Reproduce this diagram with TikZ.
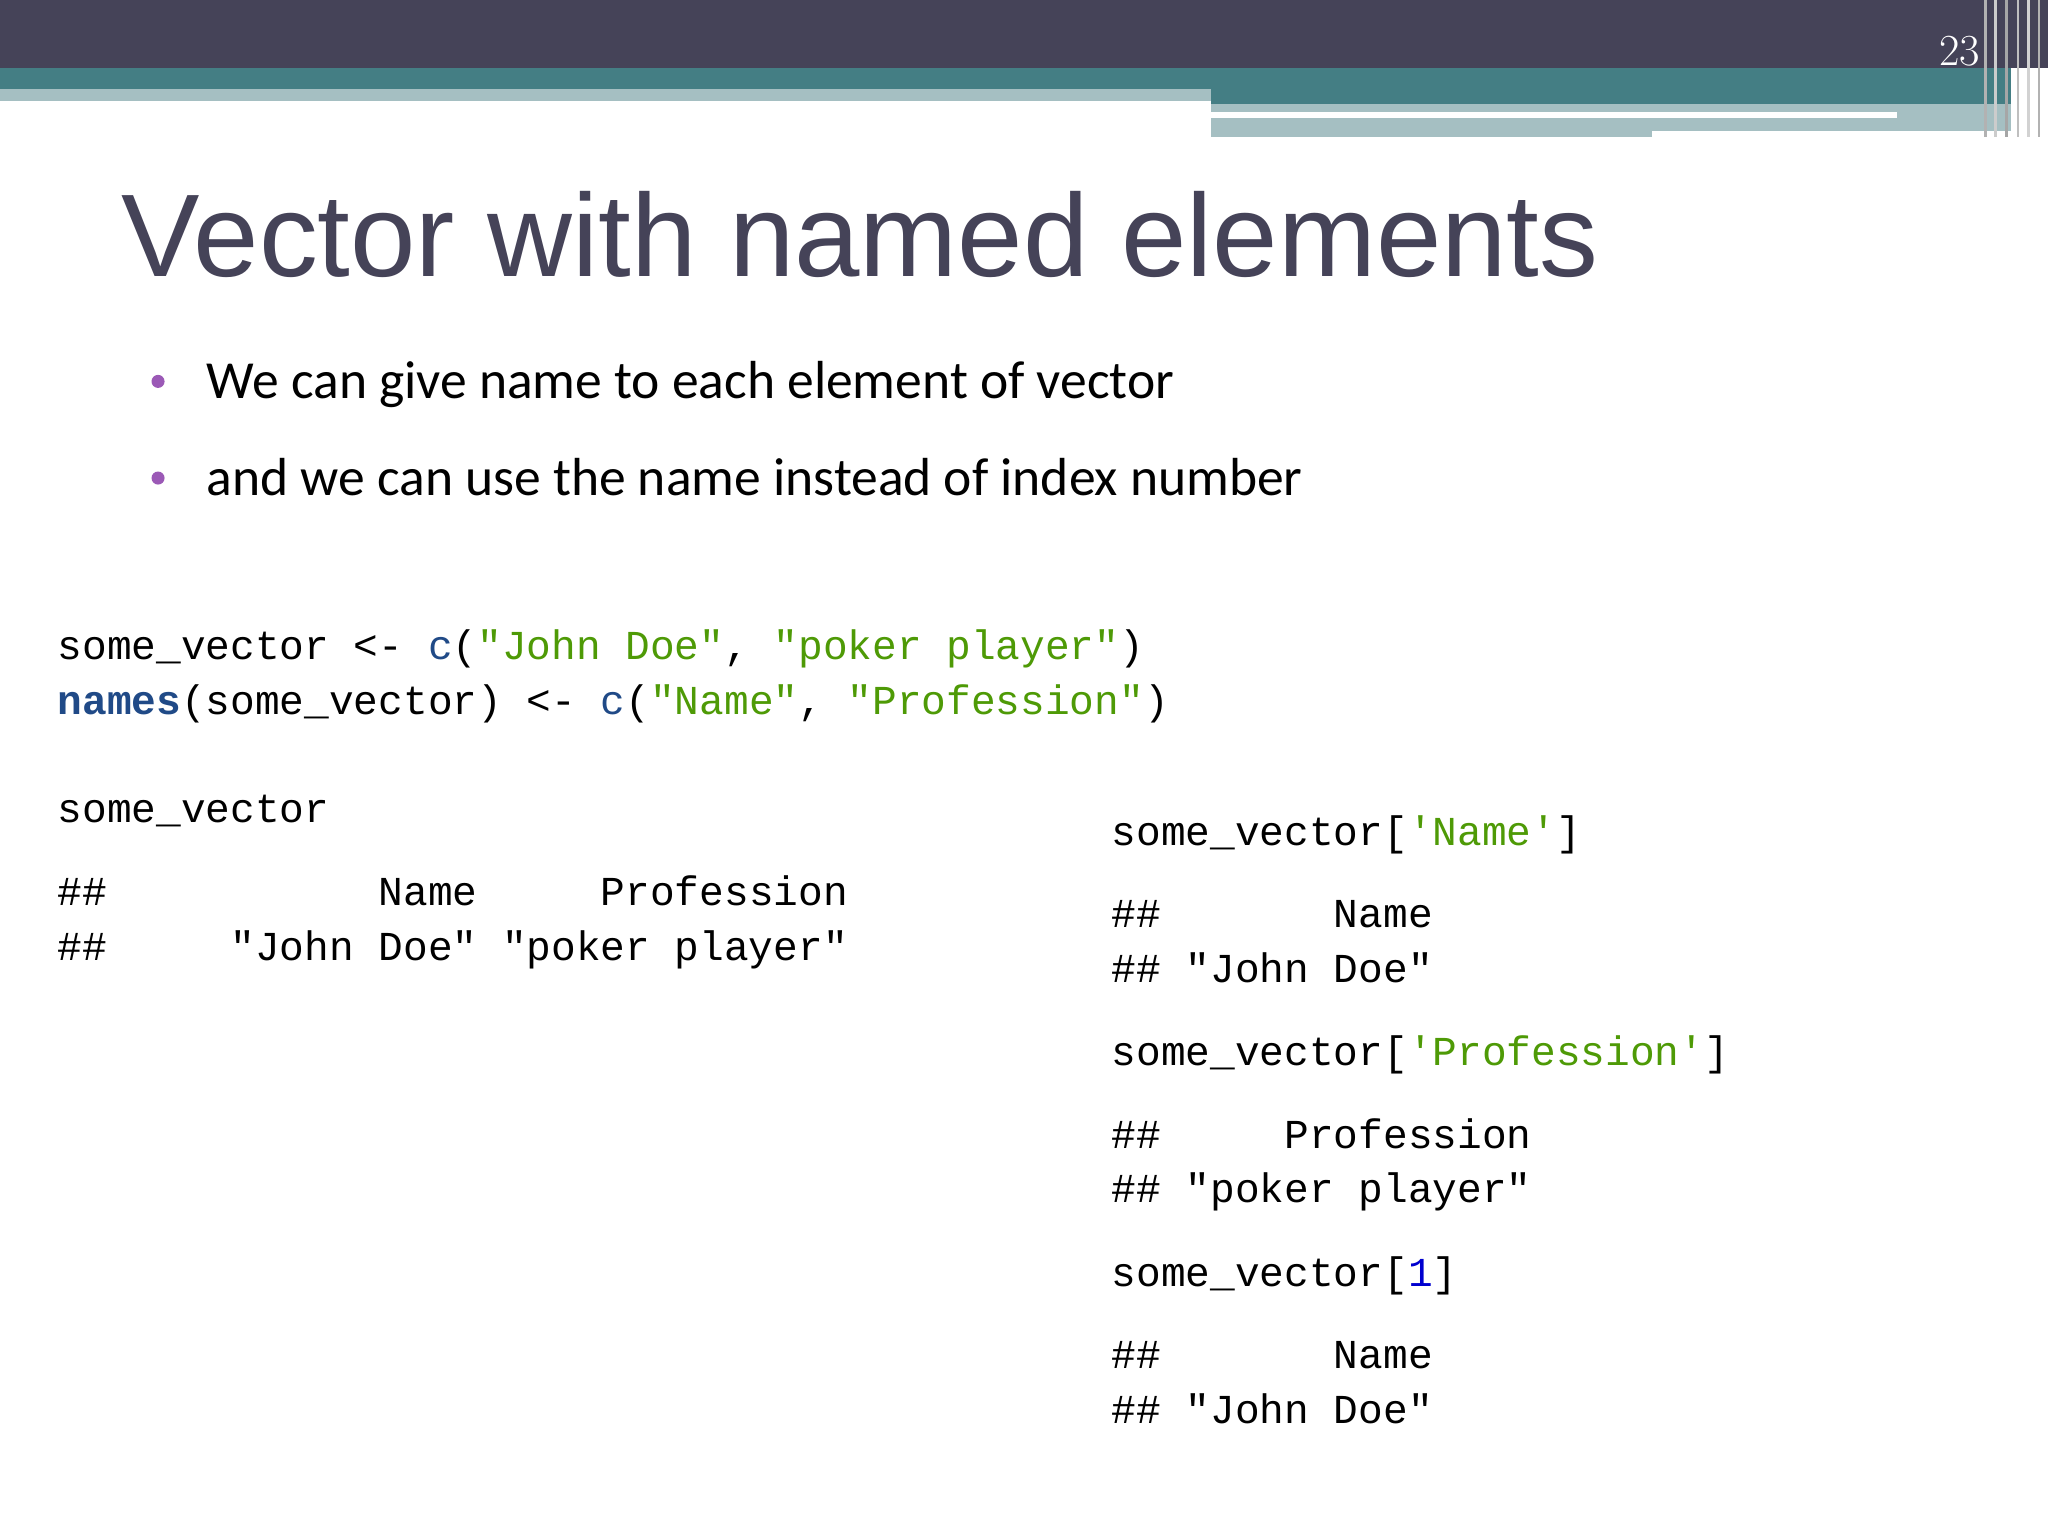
\documentclass[tikz,border=0pt]{standalone}
\usepackage{fontspec}
\setmainfont{Liberation Sans}
\newfontfamily\bodyf{Carlito}
\newfontfamily\codef{Liberation Mono}
\definecolor{hdark}{HTML}{454358}
\definecolor{hteal}{HTML}{447E84}
\definecolor{hlight}{HTML}{A5BFC2}
\definecolor{titlec}{HTML}{454358}
\definecolor{bulc}{HTML}{9B59B6}
\definecolor{strc}{HTML}{4E9A06}
\definecolor{fnc}{HTML}{204A87}
\definecolor{numc}{HTML}{0000CF}
\tikzset{code/.style={anchor=base west,inner sep=0pt,font=\codef\fontsize{31.5}{38}\selectfont},
 bul/.style={anchor=base west,inner sep=0pt,font=\bodyf\fontsize{41}{48}\selectfont},
 dot/.style={circle,fill=bulc,inner sep=0pt,minimum size=10pt}}
\newcommand{\gs}[1]{\textcolor{strc}{#1}}
\begin{document}
\begin{tikzpicture}[x=1pt,y=-1pt]
\useasboundingbox (0,0) rectangle (1568,1176);
\fill[white] (0,0) rectangle (1568,1176);
% header
\fill[hlight] (0,60) rectangle (927,77);
\fill[hlight] (927,60) rectangle (1540,105);
\fill[white] (927,86) rectangle (1452,90);
\fill[white] (1265,100) rectangle (1540,106);
\fill[hteal] (0,52) rectangle (1540,68);
\fill[hteal] (927,52) rectangle (1540,80);
\fill[hdark] (0,0) rectangle (1568,52);
\foreach \xx/\cc in {1520/gray!60,1528/gray!40,1536/gray!70,1545/gray!50,1553/gray!35,1561/gray!60}
  \draw[\cc,line width=2pt] (\xx,0) -- (\xx,105);
\node[anchor=base east,inner sep=0pt,text=white,font=\fontspec{Latin Modern Roman}\fontsize{34}{40}\selectfont] (pg) at (1516,50) {23};
% title
\node[anchor=base west,inner sep=0pt,text=titlec,font=\fontsize{90}{100}\selectfont] (title) at (93,212) {Vector with named elements};
% bullets
\node[dot] (d1) at (121,292) {};
\node[bul] (b1) at (158,305) {We can give name to each element of vector};
\node[dot] (d2) at (121,366) {};
\node[bul] (b2) at (158,379) {and we can use the name instead of index number};
% code left
\node[code] (c1) at (44,505) {some\_vector <- \textcolor{fnc}{c}(\gs{"John~Doe"}, \gs{"poker~player"})};
\node[code] (c2) at (44,547) {\textcolor{fnc}{\bfseries names}(some\_vector) <- \textcolor{fnc}{c}(\gs{"Name"}, \gs{"Profession"})};
\node[code] (c3) at (44,630) {some\_vector};
\node[code] (c4) at (44,693) {\#\#~~~~~~~~~~~Name~~~~~Profession};
\node[code] (c5) at (44,735) {\#\#~~~~~"John~Doe"~"poker~player"};
% code right
\node[code] (r1) at (851,647) {some\_vector[\gs{'Name'}]};
\node[code] (r2) at (851,710) {\#\#~~~~~~~Name};
\node[code] (r3) at (851,752) {\#\#~"John~Doe"};
\node[code] (r4) at (851,816) {some\_vector[\gs{'Profession'}]};
\node[code] (r5) at (851,879) {\#\#~~~~~Profession};
\node[code] (r6) at (851,921) {\#\#~"poker~player"};
\node[code] (r7) at (851,985) {some\_vector[\textcolor{numc}{1}]};
\node[code] (r8) at (851,1048) {\#\#~~~~~~~Name};
\node[code] (r9) at (851,1090) {\#\#~"John~Doe"};
\end{tikzpicture}
\end{document}
